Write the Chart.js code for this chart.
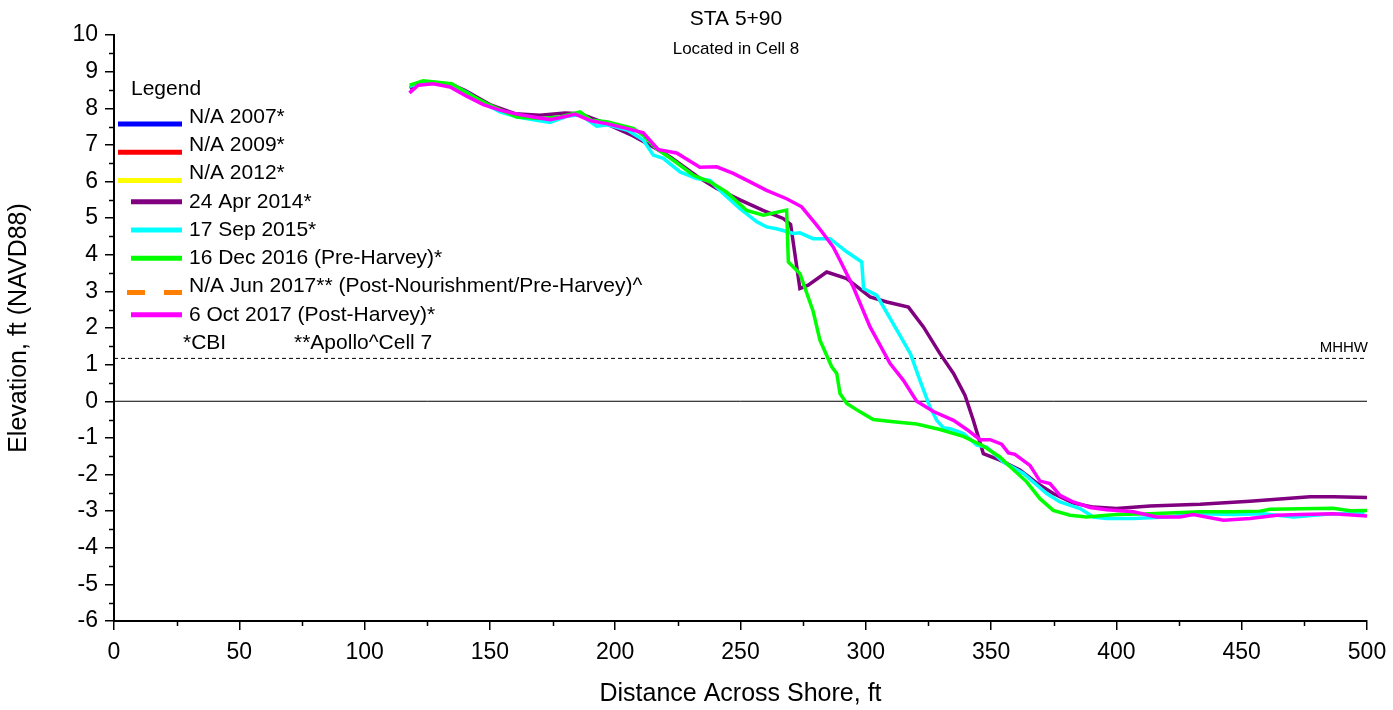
<!DOCTYPE html>
<html>
<head>
<meta charset="utf-8">
<script src="https://cdn.jsdelivr.net/npm/chart.js@4/dist/chart.umd.min.js"></script>
<style>
html,body{margin:0;padding:0;background:#fff;}
#wrap{width:1393px;height:710px;position:relative;}
</style>
</head>
<body>
<div id="wrap"><canvas id="c"></canvas></div>
<script>
// ---- data ----
const xTicks = [0,50,100,150,200,250,300,350,400,450,500];
const yTicks = [-6,-5,-4,-3,-2,-1,0,1,2,3,4,5,6,7,8,9,10];
const MHHW = 1.17;

const labels2007 = "N/A 2007*";
const labels2009 = "N/A 2009*";
const labels2012 = "N/A 2012*";
const label2014 = "24 Apr 2014*";
const label2015 = "17 Sep 2015*";
const label2016 = "16 Dec 2016 (Pre-Harvey)*";
const label2017Jun = "N/A Jun 2017** (Post-Nourishment/Pre-Harvey)^";
const label2017Oct = "6 Oct 2017 (Post-Harvey)*";

const x2014 = [118,125,135,140,150,160,170,180,186,195,207,215,222,234,240.5,250,259,267,270,273.7,277,284.4,292.4,301.7,308.4,317,323,329.6,335,339.6,342.9,346.9,353.5,361.5,368.2,374.8,382.8,390.8,400,413.4,433.4,453.3,466.6,477.3,486.6,500];
const y2014 = [8.55,8.72,8.64,8.49,8.1,7.85,7.81,7.87,7.85,7.62,7.25,6.95,6.67,6.08,5.81,5.49,5.21,4.99,4.83,3.08,3.17,3.53,3.35,2.85,2.71,2.57,2.03,1.30,0.76,0.16,-0.52,-1.43,-1.61,-1.88,-2.23,-2.52,-2.78,-2.89,-2.93,-2.86,-2.81,-2.73,-2.66,-2.61,-2.61,-2.63];

const x2015 = [118,124,135,141,148,154,161,168,174,180.6,186,192.6,197,205,211.2,215.2,219.2,225.9,232.5,237.8,243.1,249.8,256.5,260.4,264.4,271.1,273.7,279,285.7,292.4,298.4,299.1,304.4,307.1,312.4,317.8,321.6,325.6,328.3,330.9,333.6,339,344.3,348.2,354.9,362.9,372.2,377.5,385.5,390.8,396.1,406.8,420.1,433.4,446.7,458.6,470.6,485,499];
const y2015 = [8.6,8.72,8.64,8.42,8.12,7.9,7.76,7.68,7.61,7.78,7.82,7.51,7.55,7.4,7.13,6.72,6.63,6.26,6.08,6.03,5.67,5.26,4.90,4.76,4.71,4.58,4.60,4.44,4.44,4.08,3.80,3.08,2.89,2.57,1.94,1.30,0.57,-0.16,-0.52,-0.72,-0.75,-0.88,-1.20,-1.25,-1.66,-1.97,-2.52,-2.75,-2.93,-3.16,-3.20,-3.20,-3.16,-3.07,-3.09,-3.07,-3.16,-3.08,-3.05];

const x2016 = [118,123.4,134.7,140.7,148.7,160.7,170,178,186,190.6,196.6,207.2,211.2,216.5,223.2,231.2,237.8,244.5,252.5,259.1,268.4,269.1,273.7,279,281.7,286.4,288.4,289.7,292.4,297.7,303,311,320.3,329.6,338.9,346.9,353.5,356.2,364.2,369.5,374.8,381.5,388.1,396.1,400.1,413.4,433.4,446.7,457.3,461.3,479.9,486.5,493.2,500];
const y2016 = [8.63,8.75,8.67,8.42,8.13,7.76,7.72,7.76,7.90,7.67,7.63,7.45,7.26,6.90,6.58,6.17,5.99,5.71,5.21,5.08,5.22,3.80,3.49,2.45,1.67,0.94,0.76,0.21,-0.06,-0.29,-0.50,-0.56,-0.62,-0.77,-0.96,-1.22,-1.52,-1.70,-2.20,-2.66,-2.98,-3.11,-3.16,-3.11,-3.09,-3.07,-3.02,-3.02,-3.00,-2.95,-2.93,-2.92,-2.99,-2.98];

const x2017 = [117.9,121.4,127.4,134.1,140.7,147.4,154,160.7,167.3,174,180.6,184,190.6,196.6,204.5,211.2,217.2,224.5,233.8,240.5,247.1,253.8,260.4,268.4,274.4,280.4,283,287,289.7,295,301.7,309.7,315,320.3,327,335,340.3,345.6,349.6,354.2,356.9,359.5,365.5,369.5,373.5,377.5,382.8,389.5,396.1,406.8,416.1,425.4,430.7,442.7,453.3,464,473.3,486.6,500];
const y2017 = [8.42,8.63,8.67,8.58,8.33,8.10,7.95,7.84,7.76,7.69,7.78,7.84,7.65,7.58,7.45,7.33,6.87,6.78,6.39,6.40,6.22,5.99,5.76,5.53,5.31,4.81,4.58,4.21,3.85,3.12,2.03,1.03,0.57,0.0,-0.28,-0.52,-0.77,-1.05,-1.05,-1.17,-1.41,-1.45,-1.75,-2.18,-2.25,-2.57,-2.75,-2.90,-2.96,-3.02,-3.16,-3.16,-3.09,-3.25,-3.20,-3.11,-3.09,-3.07,-3.13];

// ---- build ----
const pts = (xs, ys) => xs.map((x, i) => ({x: x, y: ys[i]}));
const FONT = "'Liberation Sans', Arial, sans-serif";

function series(label, color, xs, ys, order, legendKind, dash) {
  return {
    label: label, data: pts(xs, ys), borderColor: color, backgroundColor: color,
    borderWidth: 3.5, pointRadius: 0, tension: 0, fill: false, order: order,
    borderDash: dash || [], legendKind: legendKind, showLine: true
  };
}

const datasets = [
  series(labels2007, '#0000FF', [], [], 9, 'wide'),
  series(labels2009, '#FF0000', [], [], 9, 'wide'),
  series(labels2012, '#FFFF00', [], [], 9, 'wide'),
  series(label2014, '#800080', x2014, y2014, 4, 'short'),
  series(label2015, '#00FFFF', x2015, y2015, 3, 'short'),
  series(label2016, '#00FF00', x2016, y2016, 2, 'short'),
  series(label2017Jun, '#FF8000', [], [], 9, 'dash', [18, 12]),
  series(label2017Oct, '#FF00FF', x2017, y2017, 1, 'short'),
  {label: 'zero', data: pts([0, 500], [0, 0]), borderColor: '#000', borderWidth: 1, pointRadius: 0, order: 10, refLine: true, showLine: true},
  {label: 'MHHW', data: pts([0, 500], [MHHW, MHHW]), borderColor: '#000', borderWidth: 1, borderDash: [4, 3], pointRadius: 0, order: 10, refLine: true, showLine: true}
];

const overlayPlugin = {
  id: 'overlay',
  afterDraw(chart) {
    const ctx = chart.ctx;
    const xs = chart.scales.x, ys = chart.scales.y;
    ctx.save();
    // minor ticks
    ctx.strokeStyle = '#000'; ctx.lineWidth = 1.5;
    for (let v = -5.5; v < 10; v += 1) {
      const p = Math.round(ys.getPixelForValue(v)) + 0.5;
      ctx.beginPath(); ctx.moveTo(xs.left - 5, p); ctx.lineTo(xs.left, p); ctx.stroke();
    }
    for (let v = 25; v < 500; v += 50) {
      const p = Math.round(xs.getPixelForValue(v)) + 0.5;
      ctx.beginPath(); ctx.moveTo(p, ys.bottom); ctx.lineTo(p, ys.bottom + 5); ctx.stroke();
    }
    // title
    ctx.fillStyle = '#000'; ctx.textAlign = 'center'; ctx.textBaseline = 'middle';
    ctx.font = '21px ' + FONT;
    ctx.fillText('STA 5+90', 736, 19);
    ctx.font = '17px ' + FONT;
    ctx.fillText('Located in Cell 8', 736, 49);
    // MHHW label
    ctx.textAlign = 'right'; ctx.font = '15px ' + FONT;
    ctx.fillText('MHHW', xs.right + 1, ys.getPixelForValue(MHHW) - 11);
    // legend
    ctx.textAlign = 'left'; ctx.font = '21px ' + FONT;
    ctx.fillText('Legend', 131, 89);
    let i = 0;
    chart.data.datasets.forEach(ds => {
      if (ds.refLine) return;
      const ty = 117 + i * 28.25;
      ctx.fillStyle = '#000';
      ctx.fillText(ds.label, 189, ty);
      ctx.strokeStyle = ds.borderColor; ctx.lineWidth = 5;
      ctx.beginPath();
      if (ds.legendKind === 'wide') {
        ctx.setLineDash([]); ctx.moveTo(118, ty + 7); ctx.lineTo(182, ty + 7);
      } else if (ds.legendKind === 'dash') {
        ctx.setLineDash([18, 19]); ctx.lineDashOffset = 0; ctx.moveTo(127, ty + 6); ctx.lineTo(182, ty + 6);
      } else {
        ctx.setLineDash([]); ctx.moveTo(131, ty); ctx.lineTo(182, ty);
      }
      ctx.stroke();
      ctx.setLineDash([]);
      i++;
    });
    ctx.fillStyle = '#000';
    ctx.fillText('*CBI', 183, 117 + 8 * 28.25);
    ctx.fillText('**Apollo^Cell 7', 294, 117 + 8 * 28.25);
    ctx.restore();
  }
};

new Chart(document.getElementById('c'), {
  type: 'scatter',
  data: {datasets: datasets},
  plugins: [overlayPlugin],
  options: {
    responsive: true, maintainAspectRatio: false, animation: false,
    layout: {padding: {top: 35, right: 26, left: 0, bottom: 0}},
    plugins: {legend: {display: false}, tooltip: {enabled: false}, title: {display: false}},
    elements: {line: {tension: 0}},
    scales: {
      x: {
        type: 'linear', min: 0, max: 500,
        afterBuildTicks: s => { s.ticks = xTicks.map(v => ({value: v})); },
        afterFit: s => { s.height = 89; s.paddingLeft = 0; s.paddingRight = 0; },
        grid: {display: true, drawOnChartArea: false, color: '#000', tickLength: 9, lineWidth: 1.5},
        border: {display: true, color: '#000', width: 2},
        ticks: {color: '#000', font: {family: FONT, size: 23}, padding: 9, maxRotation: 0},
        title: {display: true, text: 'Distance Across Shore, ft', color: '#000', font: {family: FONT, size: 25}, padding: {top: 0, bottom: 1}}
      },
      y: {
        type: 'linear', min: -6, max: 10,
        afterBuildTicks: s => { s.ticks = yTicks.map(v => ({value: v})); },
        afterFit: s => { s.width = 114; s.paddingTop = 0; s.paddingBottom = 0; },
        grid: {display: true, drawOnChartArea: false, color: '#000', tickLength: 9, lineWidth: 1.5},
        border: {display: true, color: '#000', width: 2},
        ticks: {color: '#000', font: {family: FONT, size: 23}, padding: 7},
        title: {display: true, text: 'Elevation, ft (NAVD88)', color: '#000', font: {family: FONT, size: 25}, padding: {top: 4, bottom: 0}}
      }
    }
  }
});
</script>
</body>
</html>
